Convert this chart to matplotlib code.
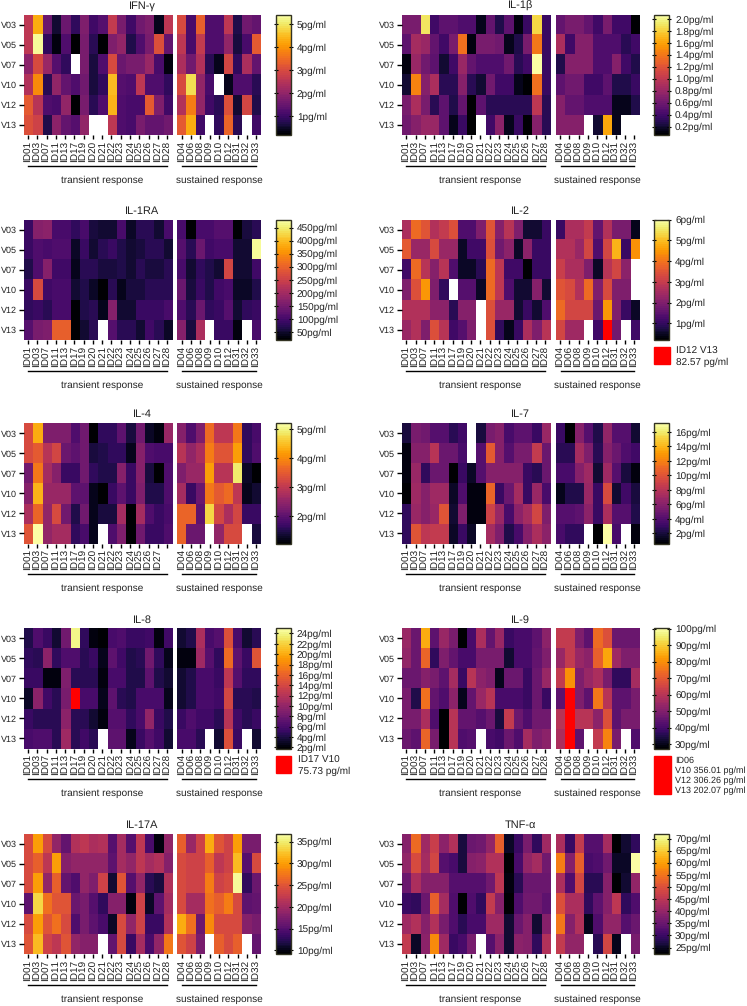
"""Cytokine heatmaps per patient and visit."""
import numpy as np
from matplotlib import pyplot as plt
from matplotlib.cm import ScalarMappable
from matplotlib.colors import ListedColormap, Normalize

plt.rcParams["font.family"] = ["Liberation Sans", "DejaVu Sans"]
plt.rcParams["text.hinting"] = "none"
plt.rcParams["text.hinting_factor"] = 1

nan = float("nan")

VISITS = ["V03", "V05", "V07", "V10", "V12", "V13"]
TRANSIENT_IDS = ["ID01", "ID03", "ID07", "ID11", "ID13", "ID17", "ID19", "ID20",
                 "ID21", "ID22", "ID23", "ID24", "ID25", "ID26", "ID27", "ID28"]
SUSTAINED_IDS = ["ID04", "ID06", "ID08", "ID09", "ID10", "ID12", "ID31", "ID32", "ID33"]

IFN_GAMMA = [
    [2.6, 4.3, 1.5, .5, 1.5, .9, 1.8, 1.0, 1.3, 2.7, 1.7, 1.0, 1.6, 1.8, .4, 2.6, 3.0, 1.1, 3.3, 1.2, 1.2, 2.6, .7, 1.6, 1.4],
    [2.6, 5.3, .9, .3, 1.2, .2, 1.7, .8, .2, 1.8, 2.0, .7, 1.2, 1.7, 3.1, 1.4, 2.6, 1.1, 2.7, 1.2, 1.2, 2.0, .6, 1.1, 3.2],
    [1.9, 3.0, 2.1, 1.3, .9, nan, 1.7, .6, 1.2, 3.0, 1.5, 1.7, 1.7, 2.1, 1.1, .3, 2.3, 1.6, 2.4, .8, .4, 2.9, .9, 2.3, 1.4],
    [2.4, 3.9, .8, 2.0, 1.4, 1.2, 1.6, .6, .9, 4.5, 1.3, 1.2, 2.6, 1.2, 1.2, .9, 3.0, 4.9, 2.0, 1.1, nan, .4, 1.2, 1.2, .8],
    [3.2, 2.5, 1.2, 1.1, 2.0, .2, 1.7, .8, 1.2, 4.4, 1.2, 1.1, 1.1, 3.2, 1.8, 1.0, 2.4, 3.7, 2.0, 1.0, .8, 3.1, .5, 2.9, .7],
    [3.1, 2.8, .7, 1.9, 1.4, 1.3, 2.0, nan, nan, 2.6, 1.2, 1.1, 1.7, 1.4, 1.4, 1.6, 3.2, 4.3, 1.0, nan, .9, 3.4, .8, nan, 1.0],
]
IL_1B = [
    [.65, .65, 1.9, .4, .5, .5, .45, .45, .15, .55, .25, .5, .12, .35, 1.85, .35, .55, .65, .65, .55, .4, .65, .4, .4, .08],
    [.5, .85, .8, .55, .4, .65, 1.35, .12, .65, .65, .6, .15, .25, .65, 1.4, .35, .9, .4, .7, .7, .45, .45, .45, .3, .4],
    [.1, .8, .6, .5, .2, .4, .8, .55, .45, .45, .45, .6, .3, .4, 2.05, .35, .25, .7, .7, .7, .45, .45, .7, .4, .25],
    [.2, 1.45, .7, .9, .3, .3, .7, .3, .2, .6, .4, .4, .15, .07, 1.35, .35, .5, .6, .6, .4, .4, .5, .25, .25, .35],
    [.65, .9, .65, .3, .5, .25, .55, .07, .5, .3, .3, .3, .3, .3, 1.0, .3, .7, .55, .55, .45, .45, .45, .15, .15, .25],
    [.6, .7, .8, .8, .5, .15, .35, .07, nan, .4, .75, .15, .35, .07, .7, .3, .7, .7, .7, nan, .2, 1.6, .15, nan, nan],
]
IL_1RA = [
    [90, 165, 175, 105, 105, 80, 100, 60, 50, 55, 105, 45, 70, 70, 50, 105, 100, 19, 105, 105, 115, 115, 25, 60, 70],
    [90, 110, 105, 110, 110, 45, 85, 50, 75, 90, 65, 55, 60, 75, 75, 55, 115, 75, 140, 95, 105, 105, 55, 50, 470],
    [65, 110, 165, 95, 95, 40, 70, 70, 60, 60, 65, 55, 70, 60, 60, 70, 100, 55, 80, 65, 55, 260, 50, 50, 95],
    [85, 265, 95, 100, 100, 55, 65, 45, 20, 70, 35, 60, 60, 70, 70, 75, 135, 60, 85, 65, 95, 100, 45, 45, 65],
    [80, 85, 70, 100, 100, 25, 65, 70, 35, 170, 50, 50, 90, 90, 90, 105, 110, 70, 135, 80, 85, 115, 55, 80, 85],
    [115, 150, 160, 300, 300, 25, 50, 70, nan, 115, 70, 70, 55, 95, 75, 45, 170, 60, 210, nan, 90, 90, 30, nan, 105],
]
IL_2 = [
    [2.6, 3.9, 3.5, 2.7, 3.0, 3.4, 1.3, 1.3, 2.0, 3.5, 2.1, 2.8, 2.0, .6, .6, 1.1, 1.1, 2.6, 2.6, 3.0, 1.6, 2.7, 1.9, 1.9, .4],
    [3.6, 2.3, 2.3, 3.3, 2.3, 2.3, .5, 1.2, 1.2, 3.4, 1.8, 2.2, .5, 2.2, 1.1, 1.1, 2.7, 2.7, 2.3, 3.2, 1.3, 3.2, 4.9, 1.1, 4.4],
    [1.2, 3.9, 2.8, 2.1, 2.8, 1.3, .5, .5, .9, 3.9, 2.9, 1.2, 1.2, .25, 1.1, 1.1, 3.1, 2.6, 2.6, 2.0, .5, 2.8, 3.2, 2.2, nan],
    [2.0, 3.4, 4.5, 2.0, 1.0, nan, 1.4, 1.4, .5, 3.9, 2.9, 1.3, .6, .6, 2.1, .6, 3.5, 3.3, 2.7, 3.9, 2.0, 3.3, 2.0, 2.0, nan],
    [2.7, 2.7, 2.7, 2.2, 2.2, .9, 2.1, 2.1, nan, 3.4, 2.3, 2.3, .6, 1.1, .6, 1.3, 3.9, 3.2, 3.2, 3.2, 1.7, 4.5, 2.0, 1.1, .5],
    [2.3, 2.7, 2.0, 3.4, 2.8, 1.2, 1.4, 2.0, nan, 3.4, 1.0, .4, 1.1, 2.6, 2.0, 2.8, 3.2, 2.4, 2.4, nan, 1.2, 82.57, 1.8, nan, 1.2],
]
IL_4 = [
    [3.3, 4.3, 2.3, 2.3, 2.3, 1.9, 2.2, 1.07, 1.6, 1.6, 2.0, 1.4, 2.2, 1.3, 1.15, 2.6, 2.4, 1.9, 2.3, 3.7, 3.0, 3.0, 3.8, 1.6, 1.8],
    [3.3, 3.5, 2.9, 3.2, 2.1, 2.0, 2.2, 1.4, 1.5, 1.6, 1.6, 1.2, 2.4, 1.9, 1.8, 1.8, 2.9, 2.5, 2.8, 3.9, 3.4, 3.4, 4.2, 1.6, 1.9],
    [2.2, 3.8, 2.7, 2.4, 1.7, 1.7, 2.2, 1.6, 1.5, 1.5, 2.4, 1.7, 2.4, 1.4, 1.1, 1.9, 2.3, 2.6, 2.6, 4.2, 2.9, 2.9, 4.9, 1.3, 1.1],
    [2.4, 4.4, 2.6, 2.6, 2.6, 2.0, 2.0, 1.2, 1.1, 1.7, 2.0, 1.7, 2.3, 1.5, 1.5, 1.9, 2.7, 1.7, 2.1, 3.8, 3.5, 3.7, 3.0, 1.2, 1.35],
    [2.8, 3.6, 2.5, 3.3, 2.2, 1.5, 2.2, 1.2, 1.4, 1.4, 2.7, 1.08, 2.7, 1.9, 1.7, 1.8, 3.6, 3.6, 2.0, 4.7, 3.2, 2.8, 3.2, 1.7, 1.7],
    [3.4, 5.2, 2.5, 2.7, 2.7, 1.6, 1.8, 1.25, nan, 1.9, 2.3, 1.08, 2.2, 1.7, 1.7, 1.9, 3.6, 2.1, 2.1, nan, 2.5, 3.3, 3.3, nan, 1.4],
]
IL_7 = [
    [2.0, 5.5, 5.2, 4.0, 4.0, 2.5, 3.4, nan, 2.0, 5.5, 6.0, 3.6, 4.5, 4.5, 3.2, 6.8, 3.2, .7, 6.0, 4.0, 2.2, 6.4, 4.2, 4.2, 1.8],
    [1.0, 6.0, 6.0, 8.0, 5.0, 5.0, 3.5, nan, 4.0, 10.4, 6.0, 4.0, 5.5, 5.5, 8.6, 5.0, 2.6, 2.6, 7.2, 5.6, 2.6, 6.0, 5.0, 3.8, 3.4],
    [1.0, 6.6, 2.8, 5.0, 5.0, .8, 3.2, 1.5, 4.2, 6.0, 6.0, 6.0, 6.0, 3.0, 2.6, 5.0, 3.6, 3.6, 6.0, 7.0, 1.8, 7.0, 4.0, 2.0, .9],
    [.8, 7.0, 6.0, 7.0, 7.0, 1.4, 3.8, .9, 1.0, 10.8, 3.2, 5.0, 7.2, 3.0, 6.6, 3.6, 1.2, 2.4, 2.4, 6.6, 3.2, 9.5, 1.8, 3.4, 2.0],
    [2.8, 6.6, 6.0, 6.6, 10.2, 1.8, 5.8, 1.0, 1.0, 9.0, 6.6, 3.6, 6.2, 7.2, 9.4, 5.6, 4.0, 4.0, 4.4, 6.2, 3.2, 7.6, 4.0, 4.0, 2.2],
    [2.8, 10.2, 8.2, 8.6, 8.6, 1.6, 3.0, 1.6, nan, 7.2, 5.8, 2.2, 3.6, 6.0, 7.4, 6.2, 3.6, 2.8, 2.8, nan, .7, 17, 3.6, nan, 1.0],
]
IL_8 = [
    [4.2, 6.2, 5.2, 3.6, 8.0, 24, 4.8, 2.2, 2.0, 6.0, 6.5, 5.4, 5.4, 5.6, 2.2, 5.6, 3.6, 4.0, 11.5, 6.0, 6.8, 14.5, 6.0, 3.6, 4.4],
    [4.8, 4.6, 9.5, 4.8, 6.4, 6.4, 4.6, 5.2, 2.6, 7.2, 5.6, 4.0, 4.6, 8.0, 5.0, 2.8, 2.4, 2.4, 10.5, 6.8, 5.0, 16.5, 7.2, 5.2, 15],
    [5.2, 5.2, 2.2, 2.5, 9.0, 4.6, 4.6, 4.6, 2.4, 6.0, 6.0, 4.0, 4.0, 7.2, 4.2, 3.4, 3.4, 4.0, 6.0, 6.0, 5.2, 12.5, 6.8, 5.0, 5.0],
    [3.2, 9.5, 5.6, 4.6, 8.5, 75.73, 6.0, 6.0, 2.8, 7.2, 4.6, 4.2, 6.0, 6.0, 6.0, 2.8, 3.4, 4.0, 6.0, 6.0, 5.6, 14, 4.6, 4.6, 4.2],
    [5.2, 4.6, 4.4, 4.4, 9.5, 4.6, 4.4, 3.4, 2.4, 6.8, 6.8, 4.8, 6.0, 10.0, 5.2, 4.0, 5.2, 6.4, 5.6, 5.6, 4.4, 12, 5.6, 4.6, 5.2],
    [6.0, 6.4, 6.4, 4.6, 10.5, 4.6, 5.6, 4.4, nan, 7.2, 7.2, 2.8, 5.4, 6.8, 5.6, 3.4, 6.0, 6.0, 4.6, nan, 3.4, 14.5, 5.4, nan, 3.6],
]
IL_9 = [
    [54, 46, 85, 44, 54, 49, 28, 41, 57, 45, 54, 38, 40, 40, 44, 52, 62, 62, 50, 44, 74, 68, 46, 46, 46],
    [53, 46, 72, 37, 50, 45, 41, 41, 48, 48, 48, 32, 40, 40, 45, 50, 54, 62, 54, 52, 71, 84, 55, 50, 50],
    [46, 46, 51, 49, 44, 56, 38, 60, 52, 50, 30, 46, 46, 38, 46, 54, 62, 80, 50, 54, 58, 48, 37, 37, 56],
    [48, 35, 75, 45, 42, 52, 30, 45, 54, 60, 41, 41, 41, 38, 46, 38, 44, 356.01, 50, 44, 76, 60, 44, 44, 48],
    [49, 49, 58, 42, 27.5, 60, 45, 45, 43, 46, 34, 62, 46, 42, 47, 47, 60, 306.26, 60, 60, 52, 68, 44, 48, 48],
    [46, 44, 72, 48, 27.5, 60, 42, 43, nan, 41, 39, 46, 42, 56, 50, 52, 58, 202.07, 44, nan, 62, 78, 48, nan, 42],
]
IL_17A = [
    [24, 30, 24, 19, 16, 21, 22, 20.5, 21, 15, 20, 15, 22, 14, 10, 19, 26, 19.5, 23, 31, 25, 23, 30, 17, 17],
    [24, 26, 22, 30, 18, 19, 19, 19, 19, 15.5, 20, 19, 22, 20, 21, 18, 24, 23, 23, 26, 22, 23, 32, 15, 24],
    [24, 30, 19, 26, 16, 14.5, 19, 17.5, 23, 11, 25, 15, 19, 12.5, 11.5, 21, 24, 23, 23, 28, 23, 24, 36, 13, 16.5],
    [15.5, 33.5, 27, 25, 25, 16.5, 17, 15, 13, 18, 18, 10, 23, 10.5, 15.5, 20, 24, 20, 20, 27, 26, 28, 24, 15.5, 16],
    [24, 30, 25, 27, 24, 14.5, 17, 15.5, 14, 10.5, 24, 19, 23, 13.5, 13.5, 21, 31, 27, 16.5, 29, 24, 24, 24, 18, 17],
    [25, 32, 23, 22, 25, 19, 18, 18, nan, 16, 24, 13.5, 20, 14, 19, 27.5, 25, 23, 17, nan, 26, 24, 26, nan, 16],
]
TNF_A = [
    [38, 54, 41, 47, 39, 44, 27, 35, 36, 40, 52, 25, 30, 37, 29, 41, 43, 30, 46, 33, 33, 42, 23, 26, 29],
    [40, 49, 42, 48, 33, 31, 27, 38, 39, 44, 44, 23, 31, 40, 42, 36, 56, 38, 52, 31, 32, 36, 25, 25, 72],
    [35, 43, 38, 38, 38, 33, 33, 33, 33, 36, 45, 23.5, 28, 35, 35, 35, 43, 32, 48, 28, 28, 38, 22.5, 26, 40],
    [30, 29, 35, 52, 42, 32, 23, 32, 29, 46, 38, 23, 32, 36, 36, 34, 50, 43, 43, 29, 34, 38, 45, 29, 32],
    [41, 44, 38, 44, 37, 32, 28, 31, 31, 41, 41, 26, 35, 38, 26, 38, 55, 38, 44, 24, 32, 40, 40, 33, 35],
    [46, 25, 39, 58, 41, 30, 31, 37, nan, 33, 39, 26, 39, 38, 29, 44, 46, 40, 40, nan, 28, 48, 24, nan, 37],
]

TITLES = ["IFN-γ", "IL-1β", "IL-1RA", "IL-2", "IL-4", "IL-7", "IL-8", "IL-9", "IL-17A", "TNF-α"]
PANEL_DATA = [IFN_GAMMA, IL_1B, IL_1RA, IL_2, IL_4, IL_7, IL_8, IL_9, IL_17A, TNF_A]
COLOR_LIMITS = [(.17, 5.4), (.06, 2.07), (19, 481), (.21, 6.0), (1.06, 5.2),
                (.62, 17.2), (1.8, 25), (27.4, 100.2), (9.2, 36.8), (22.4, 72)]
COLOR_TICKS = [
    [1, 2, 3, 4, 5],
    [.2, .4, .6, .8, 1.0, 1.2, 1.4, 1.6, 1.8, 2.0],
    [50, 100, 150, 200, 250, 300, 350, 400, 450],
    [1, 2, 3, 4, 5, 6],
    [2, 3, 4, 5],
    [2, 4, 6, 8, 10, 12, 14, 16],
    [2, 4, 6, 8, 10, 12, 14, 16, 18, 20, 22, 24],
    [30, 40, 50, 60, 70, 80, 90, 100],
    [10, 15, 20, 25, 30, 35],
    [25, 30, 35, 40, 45, 50, 55, 60, 65, 70],
]
TICK_FORMATS = ["{:.0f}pg/ml", "{:.1f}pg/ml"] + ["{:.0f}pg/ml"] * 8
# panel index -> label lines of the out-of-range box
OUT_OF_RANGE = {
    3: ["ID12 V13", "82.57 pg/ml"],
    6: ["ID17 V10", "75.73 pg/ml"],
    7: ["ID06", "V10 356.01 pg/ml", "V12 306.26 pg/ml", "V13 202.07 pg/ml"],
}

W, H = 747, 1006
ROW_TOPS = [14.7, 219.7, 423.3, 628.3, 833.7]
ROW_HEIGHT = 120.2
LABEL_SIZE = 7
TEXT_COLOR = "#222222"

# inferno lifted a little in the darks, the reference's low cells stay purple
cmap = ListedColormap(plt.get_cmap("inferno")(np.linspace(0, 1, 64) ** 0.88))
cmap.set_bad("white")
cmap.set_over("#ff0000")


def add_px_axes(fig, left, top, right, bottom):
    """Add axes given in pixel coordinates measured from the top left corner."""
    return fig.add_axes([left / W, 1 - bottom / H, (right - left) / W, (bottom - top) / H])


def fig_text(fig, x, y, text, **kwargs):
    """Write text at a pixel position."""
    fig.text(x / W, 1 - y / H, text, color=TEXT_COLOR, **kwargs)


def draw_block(ax, values, labels, norm):
    """Draw one heatmap block with its sample ticks."""
    ax.imshow(values, cmap=cmap, norm=norm, aspect="auto", interpolation="nearest")
    ax.set_xticks(range(len(labels)), labels, rotation=90, fontsize=LABEL_SIZE)
    ax.tick_params(axis="x", length=3, width=1, pad=1, labelcolor=TEXT_COLOR)
    for spine in ax.spines.values():
        spine.set_visible(False)


def draw_panel(fig, index, left, top):
    """Draw a heatmap pair, its colorbar and annotations."""
    values = np.array(PANEL_DATA[index], dtype=float)
    vmin, vmax = COLOR_LIMITS[index]
    norm = Normalize(vmin, vmax)
    bottom = top + ROW_HEIGHT
    split = len(TRANSIENT_IDS)

    transient_labels = list(TRANSIENT_IDS)
    if TITLES[index] == "IL-4":
        transient_labels[-1] = ""

    ax1 = add_px_axes(fig, left, top, left + 148.2, bottom)
    draw_block(ax1, values[:, :split], transient_labels, norm)
    ax1.set_yticks(range(len(VISITS)), VISITS, fontsize=6.8)
    ax1.tick_params(axis="y", length=3.5, width=1, pad=1, labelcolor=TEXT_COLOR)

    ax2 = add_px_axes(fig, left + 153.8, top, left + 237.2, bottom)
    draw_block(ax2, values[:, split:], SUSTAINED_IDS, norm)
    ax2.set_yticks([])

    cax = add_px_axes(fig, left + 252.2, top, left + 267.5, bottom)
    cbar = fig.colorbar(ScalarMappable(norm=norm, cmap=cmap), cax=cax)
    ticks = COLOR_TICKS[index]
    cbar.set_ticks(ticks, labels=[TICK_FORMATS[index].format(t) for t in ticks])
    cbar.ax.tick_params(direction="inout", length=3.5, width=0.8, left=True, right=True,
                        labelsize=7.2, pad=2.5, labelcolor=TEXT_COLOR)
    cbar.ax.minorticks_off()
    cbar.outline.set_linewidth(1)
    cbar.outline.set_edgecolor("#333322")

    fig_text(fig, left + 118.5, top - 8.7, TITLES[index], fontsize=8.2, ha="center", va="center")

    # group brackets and captions under the blocks
    line_y = 1 - (bottom + 30.7) / H
    for x0, x1 in [(left + 4.5, left + 143.2), (left + 158.8, left + 232.5)]:
        fig.add_artist(plt.Line2D([x0 / W, x1 / W], [line_y, line_y], color="black", lw=1))
    fig_text(fig, left + 78.5, bottom + 45, "transient response", fontsize=7.05, ha="center", va="center")
    fig_text(fig, left + 195.5, bottom + 45, "sustained response", fontsize=7.05, ha="center", va="center")

    if index in OUT_OF_RANGE:
        lines = OUT_OF_RANGE[index]
        wide = len(lines) > 2
        box_top = bottom + 7.5
        box_height = 38.3 if wide else 16.6
        box = plt.Rectangle(((left + 252.2) / W, 1 - (box_top + box_height) / H),
                            (16.7 if wide else 15.8) / W, box_height / H,
                            color="#ff0000", transform=fig.transFigure)
        fig.add_artist(box)
        text_x = left + (273 if wide else 274.8)
        step = 10.3 if wide else 11
        for i, line in enumerate(lines):
            fig_text(fig, text_x, bottom + 11.8 + i * step, line, fontsize=6.4 if wide else 7.1, va="center")


def main():
    fig = plt.figure(figsize=(W / 100, H / 100), dpi=100)
    for index in range(len(TITLES)):
        left = 23.5 if index % 2 == 0 else 401.7
        draw_panel(fig, index, left, ROW_TOPS[index // 2])
    fig.savefig("out.png", dpi=100)


main()
